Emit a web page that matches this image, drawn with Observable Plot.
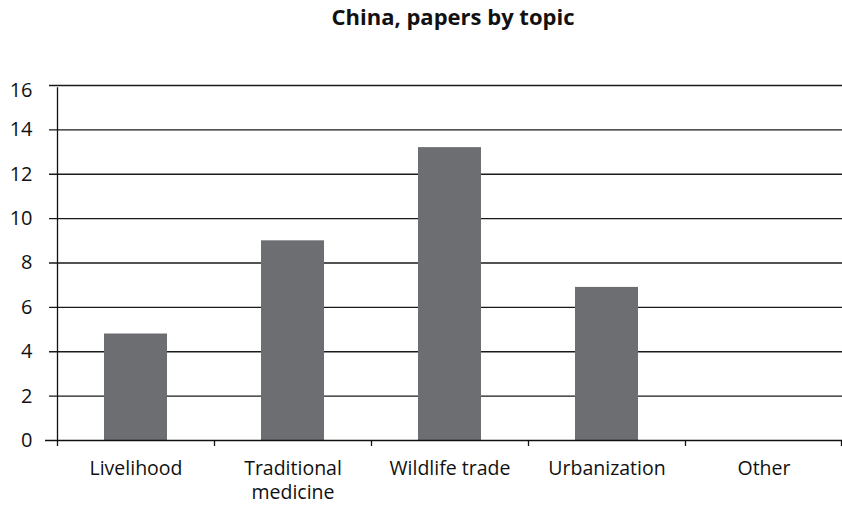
<!DOCTYPE html>
<html>
<head>
<meta charset="utf-8">
<script src="https://cdn.jsdelivr.net/npm/d3@7"></script>
<script src="https://cdn.jsdelivr.net/npm/@observablehq/plot@0.6"></script>
<style>
  html, body { margin: 0; padding: 0; background: #fff; }
  svg { display: block; }
</style>
</head>
<body>
<div id="chart"></div>
<script>
const title = "China, papers by topic";
const categories = ["Livelihood", "Traditional medicine", "Wildlife trade", "Urbanization", "Other"];
const tickLabels = ["Livelihood", "Traditional\nmedicine", "Wildlife trade", "Urbanization", "Other"];
const values = [4.8, 9.0, 13.2, 6.9, 0];
const yTicks = [0, 2, 4, 6, 8, 10, 12, 14, 16];

const data = categories.map((c, i) => ({category: c, label: tickLabels[i], value: values[i]}));
const font = "'Open Sans', sans-serif";
const half = 157 / 2;
const yMax = yTicks[yTicks.length - 1];

const chart = Plot.plot({
  width: 842,
  height: 506,
  marginLeft: 57,
  marginRight: 0,
  marginTop: 85,
  marginBottom: 66,
  style: {fontFamily: font, fontSize: "20px", color: "#111", background: "#fff"},
  x: {type: "band", domain: categories, paddingInner: 0.6, paddingOuter: 0.3, axis: null},
  y: {domain: [0, yMax], axis: null},
  marks: [
    Plot.ruleY(yTicks.filter(d => d > 0), {stroke: "#1a1a1a", strokeWidth: 1.4, insetLeft: -8}),
    Plot.barY(data, {x: "category", y: "value", fill: "#6d6e71"}),
    Plot.ruleY([0], {stroke: "#111", strokeWidth: 1.4, insetLeft: -12}),
    Plot.ruleX([categories[0]], {x: d => d, y1: -0.27, y2: 15.9, dx: -half, stroke: "#111", strokeWidth: 1.3}),
    Plot.ruleX(categories.slice(1), {x: d => d, y1: 0, y2: -0.27, dx: -half, stroke: "#111", strokeWidth: 1.3}),
    Plot.ruleX([categories[categories.length - 1]], {x: d => d, y1: 0, y2: -0.27, dx: half - 1, stroke: "#111", strokeWidth: 1.3}),
    Plot.text(yTicks.filter(d => d < yMax), {x: () => categories[0], y: d => d, text: d => String(d), dx: -half - 25, textAnchor: "end", fontSize: 20, fill: "#111"}),
    Plot.text([yMax], {x: () => categories[0], y: d => d, text: d => String(d), dx: -half - 25, dy: 5, textAnchor: "end", fontSize: 20, fill: "#111"}),
    Plot.text(data, {x: "category", y: () => 0, text: "label", dy: 17, lineAnchor: "top", lineHeight: 1.25, fontSize: 19.5, fill: "#111"}),
    Plot.text([title], {frameAnchor: "top", dy: -68, dx: 3, lineAnchor: "middle", fontWeight: "bold", fontSize: 22, fill: "#111"})
  ]
});
document.getElementById("chart").appendChild(chart);
</script>
</body>
</html>
